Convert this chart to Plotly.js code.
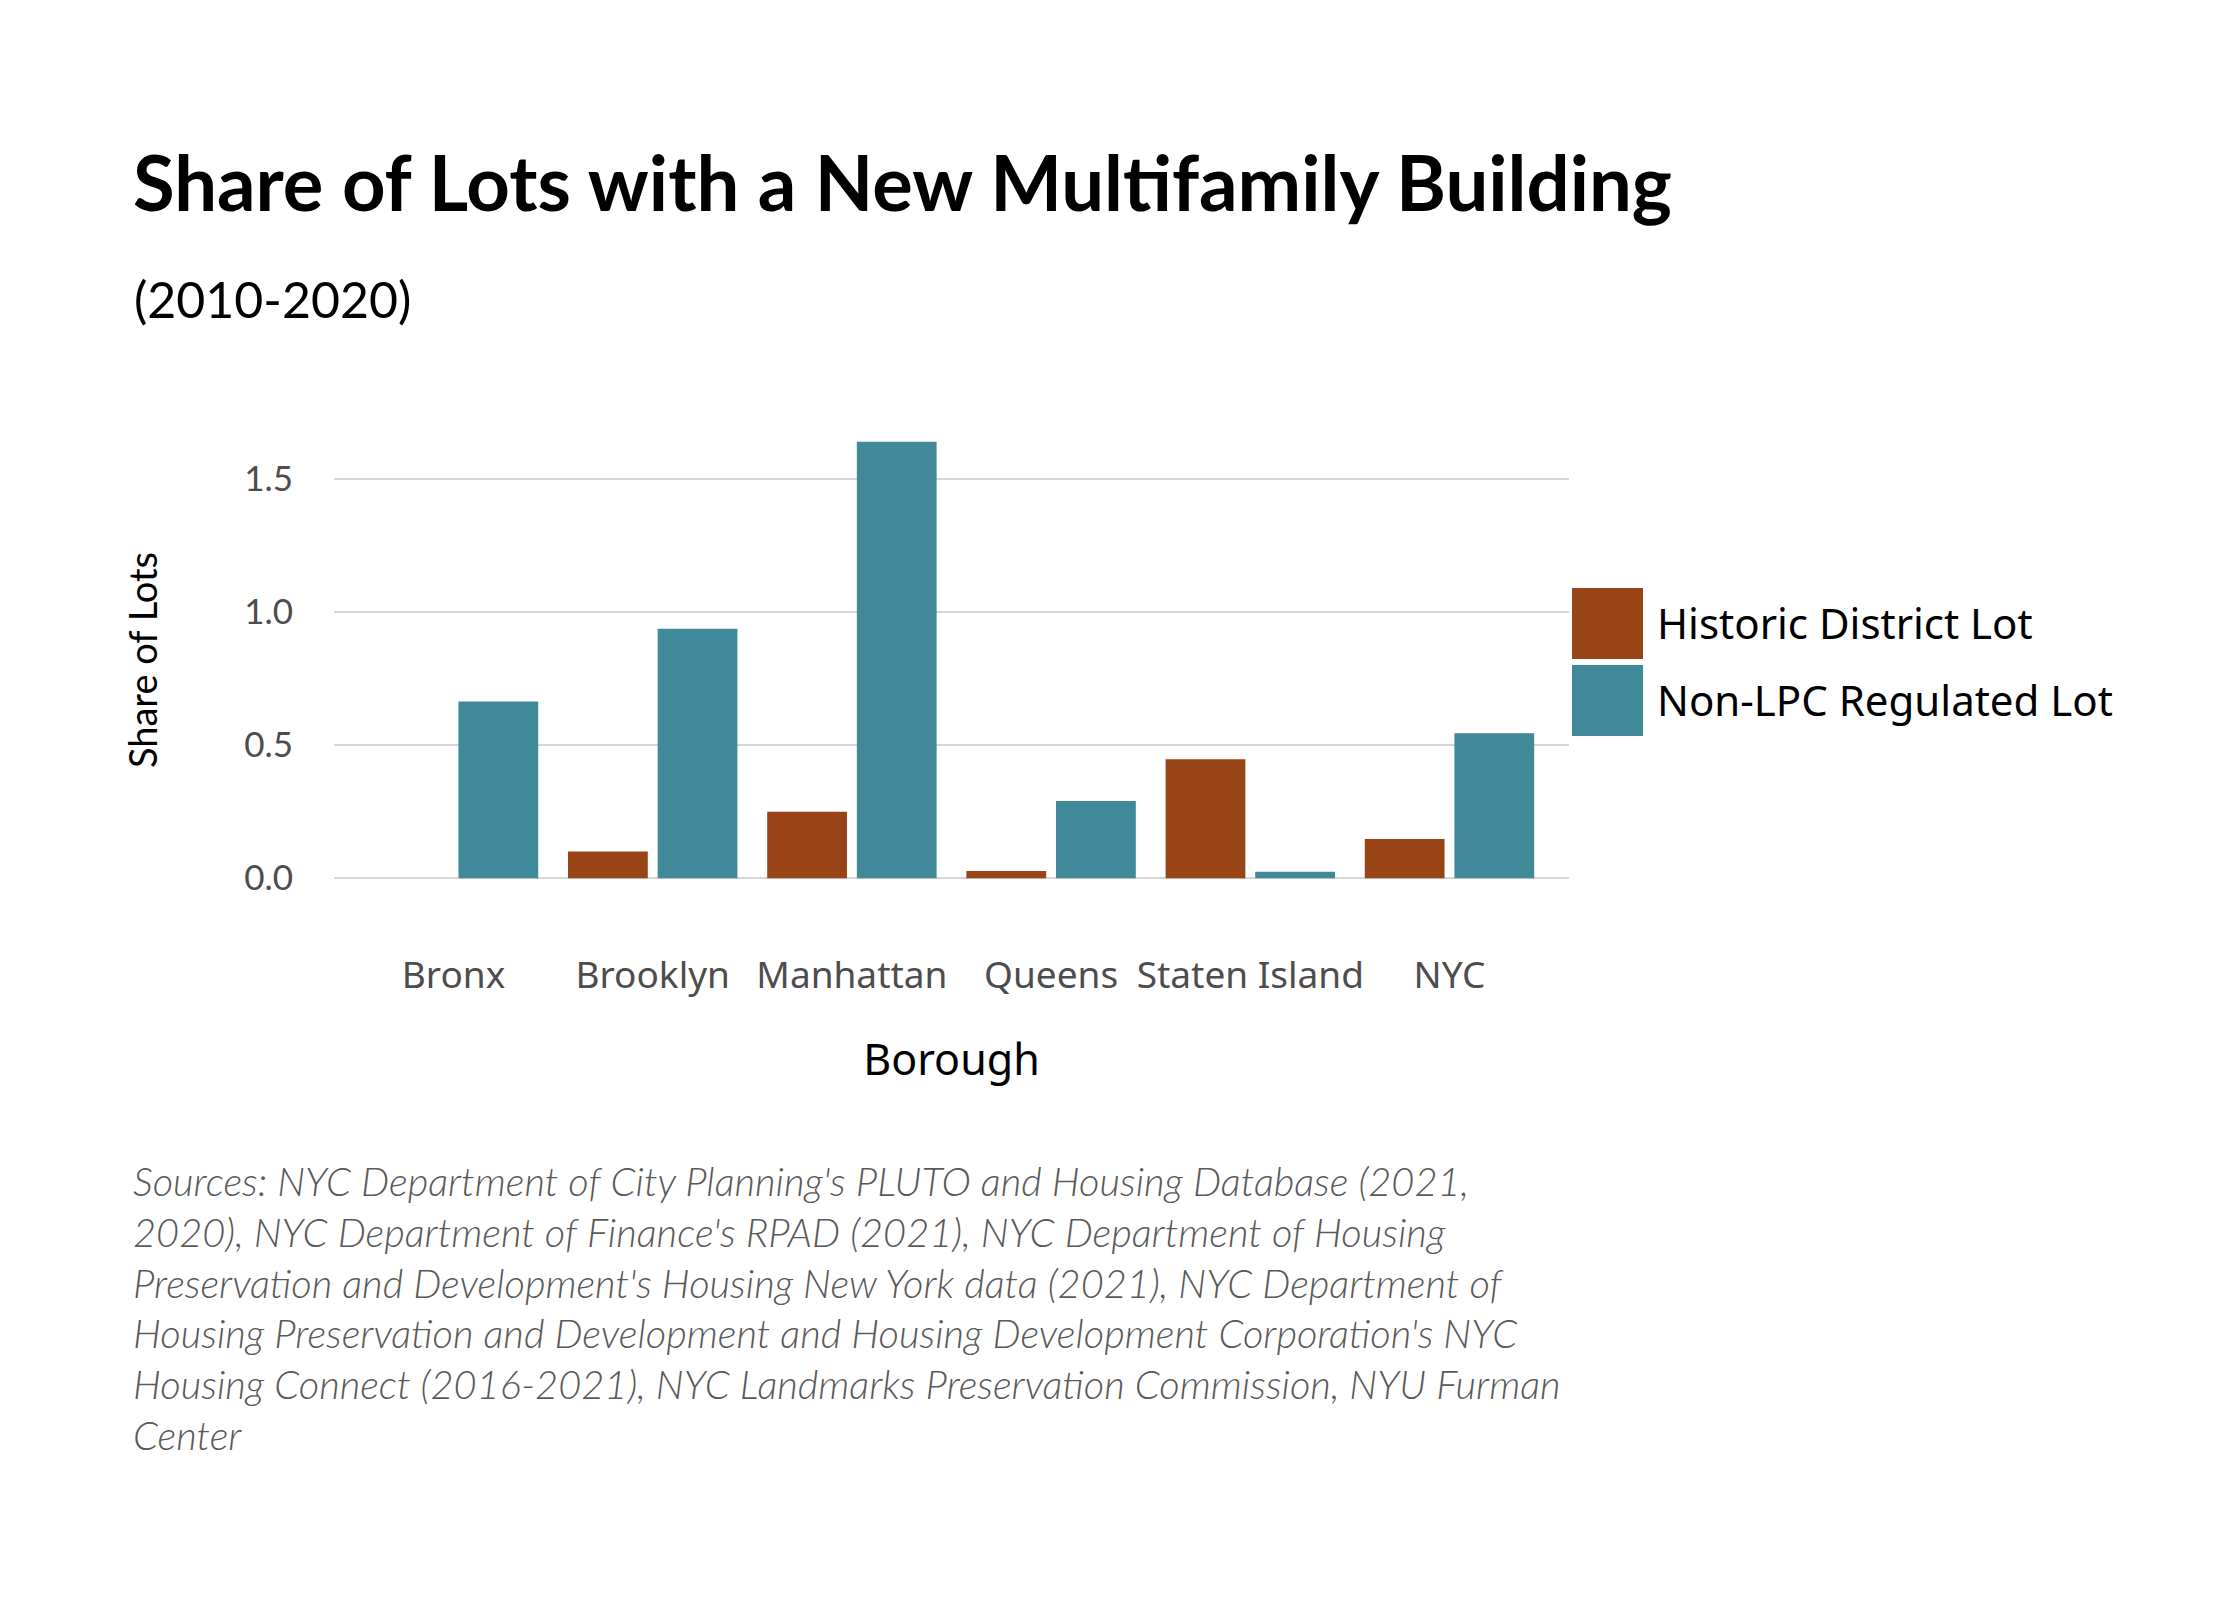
<!DOCTYPE html>
<html>
<head>
<meta charset="utf-8">
<script src="https://cdn.plot.ly/plotly-3.0.1.min.js"></script>
<style>
html,body{margin:0;padding:0;background:#fff;}
#chart{width:2240px;height:1600px;}
</style>
</head>
<body>
<div id="chart"></div>
<script>
// ---- data ----
const boroughs = ["Bronx", "Brooklyn", "Manhattan", "Queens", "Staten Island", "NYC"];
const seriesNames = ["Historic District Lot", "Non-LPC Regulated Lot"];
const historicValues = [0, 0.10, 0.25, 0.027, 0.447, 0.147];
const nonLpcValues = [0.664, 0.937, 1.64, 0.29, 0.024, 0.545];
const yTickVals = [0, 0.5, 1.0, 1.5];
const yTickText = ["0.0", "0.5", "1.0", "1.5"];
const titleText = "Share of Lots with a New Multifamily Building";
const subtitleText = "(2010-2020)";
const xTitle = "Borough";
const yTitle = "Share of Lots";
const captionLines = [
  "Sources: NYC Department of City Planning's PLUTO and Housing Database (2021,",
  "2020), NYC Department of Finance's RPAD (2021), NYC Department of Housing",
  "Preservation and Development's Housing New York data (2021), NYC Department of",
  "Housing Preservation and Development and Housing Development Corporation's NYC",
  "Housing Connect (2016-2021), NYC Landmarks Preservation Commission, NYU Furman",
  "Center"
];
const colors = ["#984416", "#408999"];

// ---- layout geometry ----
const W = 2240, H = 1600;
const plotL = 334, plotR = 1569, plotT = 420, plotB = 900;
const px = x => (x - plotL) / (plotR - plotL);
const py = y => (plotB - y) / (plotB - plotT);

const yMax = Math.max(...historicValues, ...nonLpcValues);
const yRange = [-0.05 * yMax, 1.05 * yMax];

const traces = [historicValues, nonLpcValues].map((vals, i) => ({
  type: "bar",
  name: seriesNames[i],
  x: boroughs,
  y: vals,
  marker: {color: colors[i], line: {width: 0}},
  showlegend: false,
  hoverinfo: "x+y+name"
}));

const annotations = [];
annotations.push({
  text: subtitleText, xref: "paper", yref: "paper",
  x: px(132), y: py(299), xanchor: "left", yanchor: "middle",
  showarrow: false, font: {family: "Lato", size: 50, color: "#000"}
});
// legend text
const legendY = [624, 701];
const shapes = [];
seriesNames.forEach((n, i) => {
  annotations.push({
    text: n, xref: "paper", yref: "paper",
    x: px(1655), y: py(legendY[i] - 2), xanchor: "left", yanchor: "middle",
    showarrow: false, font: {family: "Noto Sans", size: 42, color: "#000"}
  });
  const top = i === 0 ? 588 : 665;
  shapes.push({
    type: "rect", xref: "paper", yref: "paper",
    x0: px(1572), x1: px(1643), y0: py(top), y1: py(top + 71),
    fillcolor: colors[i], line: {width: 0}
  });
});
// caption
const capBase = 1196, capStep = 50.8;
captionLines.forEach((t, i) => {
  annotations.push({
    text: t, xref: "paper", yref: "paper",
    x: px(131), y: py(capBase + i * capStep + 10), xanchor: "left", yanchor: "bottom",
    showarrow: false,
    font: {family: "Lato", size: 39.8, color: "#595959", style: "italic", weight: 300}
  });
});

const layout = {
  width: W, height: H,
  paper_bgcolor: "#fff", plot_bgcolor: "#fff",
  margin: {l: plotL, r: W - plotR, t: plotT, b: H - plotB, autoexpand: false},
  title: {
    text: "<b>" + titleText + "</b>",
    xref: "container", yref: "container",
    x: 133 / W, xanchor: "left",
    y: 1 - 184 / H, yanchor: "middle",
    font: {family: "Lato", size: 76, color: "#000"}
  },
  barmode: "group",
  bargap: 0.1,
  bargroupgap: 0.11,
  xaxis: {
    type: "category",
    range: [-0.6, boroughs.length - 0.4],
    showgrid: false, zeroline: false, showline: false, ticks: "",
    tickfont: {family: "Noto Sans", size: 37, color: "#4d4d4d"},
    ticklabelstandoff: 50,
    title: {text: xTitle, font: {family: "Noto Sans", size: 43, color: "#000"}, standoff: 46},
    automargin: false, fixedrange: true
  },
  yaxis: {
    range: yRange,
    tickvals: yTickVals, ticktext: yTickText,
    showgrid: true, gridcolor: "#d6d6d6", gridwidth: 1.6,
    zeroline: false, showline: false, ticks: "",
    tickfont: {family: "Lato", size: 35, color: "#4d4d4d"},
    ticklabelstandoff: 40,
    title: {text: yTitle, font: {family: "Lato", size: 38, color: "#000"}, standoff: 74},
    automargin: false, fixedrange: true
  },
  annotations: annotations,
  shapes: shapes
};

Plotly.newPlot("chart", traces, layout, {displayModeBar: false, staticPlot: true});
</script>
</body>
</html>
